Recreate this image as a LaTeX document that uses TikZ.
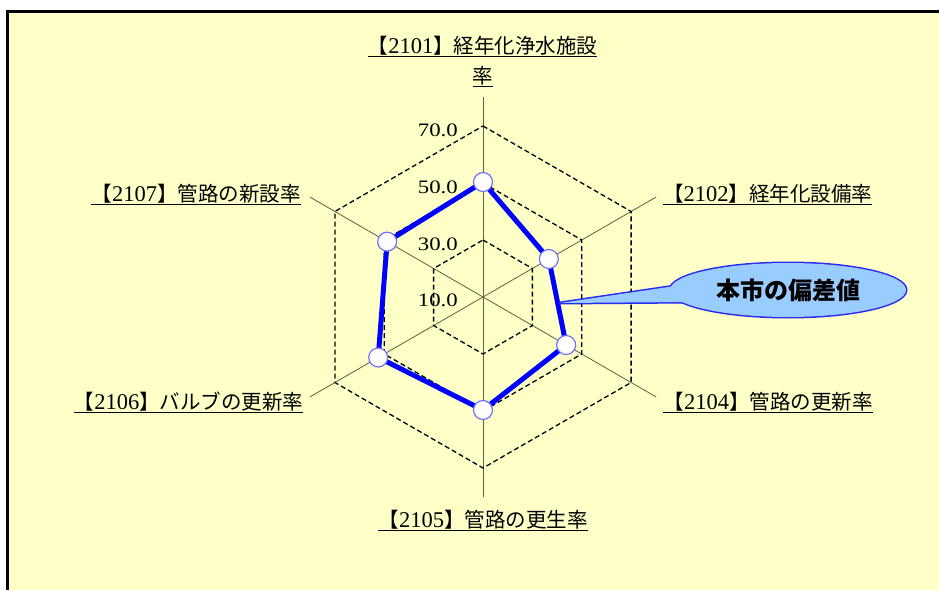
\documentclass[tikz,border=0pt]{standalone}
\usepackage{fontspec}
\setmainfont{Liberation Serif}
\newfontfamily\cjk{Noto Sans CJK JP}
\usetikzlibrary{shapes.geometric,calc}
\definecolor{bgyellow}{HTML}{FFFFC8}
\definecolor{axiscol}{RGB}{95,95,65}
\definecolor{serblue}{HTML}{0000FF}
\definecolor{mkborder}{HTML}{7070FF}
\definecolor{callfill}{HTML}{99CCFF}
\definecolor{callline}{HTML}{2A2AF0}
\tikzset{
  axislbl/.style={inner sep=0pt, anchor=south, font=\fontsize{20.5}{24}\selectfont},
  ticklbl/.style={inner sep=0pt, anchor=east, xscale=1.2, font=\fontsize{19}{21}\selectfont},
  axisline/.style={draw=axiscol, line width=0.8pt},
  gridhex/.style={draw=black, line width=1.3pt, dash pattern=on 5pt off 3pt},
  series/.style={draw=serblue, line width=5pt, line join=round},
  marker/.style={circle, fill=white, draw=mkborder, line width=1.2pt, minimum size=19pt, inner sep=0pt},
  uline/.style={draw=black, line width=0.8pt}
}
\newcommand{\ulbl}[1]{\draw[uline] ([yshift=-1pt]#1.south west) -- ([yshift=-1pt]#1.south east);}
\newcommand{\dg}[1]{{\fontsize{22.5}{24}\selectfont #1}}
\begin{document}
\begin{tikzpicture}[x=1pt,y=1pt]
\useasboundingbox (0,0) rectangle (939,590);
\fill[white] (0,0) rectangle (939,590);
\fill[bgyellow] (7,0) rectangle (939,579);
\draw[line width=3pt] (7.5,0) -- (7.5,578.7) -- (939,578.7);

\coordinate (c) at (483,293);
% axes
\foreach \i/\a in {1/90,2/30,3/-30,4/-90,5/210,6/150}{
  \coordinate (a\i) at ($(c)+(\a:200)$);
  \draw[axisline] (c) -- (a\i);
}
% grid hexagons
\foreach \r in {57,114,171}{
  \draw[gridhex] ($(c)+(90:\r)$) -- ($(c)+(30:\r)$) -- ($(c)+(-30:\r)$) -- ($(c)+(-90:\r)$) -- ($(c)+(210:\r)$) -- ($(c)+(150:\r)$) -- cycle;
}
% tick labels
\node[ticklbl] (t70) at (458,460) {70.0};
\node[ticklbl] (t50) at (458,403) {50.0};
\node[ticklbl] (t30) at (458,346) {30.0};
\node[ticklbl] (t10) at (458,290) {10.0};

% data
\coordinate (d1) at ($(c)+(90:115)$);
\coordinate (d2) at ($(c)+(30:76)$);
\coordinate (d3) at ($(c)+(-30:96)$);
\coordinate (d4) at ($(c)+(-90:113)$);
\coordinate (d5) at ($(c)+(210:121)$);
\coordinate (d6) at ($(c)+(150:110.7)$);
\draw[series] (d1) -- (d2) -- (d3) -- (d4) -- (d5) -- (d6) -- cycle;
\foreach \i in {1,...,6}{ \node[marker] (m\i) at (d\i) {}; }

% axis labels
\node[axislbl] (l1a) at (482.5,535) {{\cjk 【}\dg{2101}{\cjk 】経年化浄水施設}};
\ulbl{l1a}
\node[axislbl] (l1b) at (483,505) {{\cjk 率}};
\ulbl{l1b}
\node[axislbl] (l2) at (767.5,387) {{\cjk 【}\dg{2102}{\cjk 】経年化設備率}};
\ulbl{l2}
\node[axislbl] (l4) at (768,179) {{\cjk 【}\dg{2104}{\cjk 】管路の更新率}};
\ulbl{l4}
\node[axislbl] (l5) at (483,61) {{\cjk 【}\dg{2105}{\cjk 】管路の更生率}};
\ulbl{l5}
\node[axislbl] (l6) at (188.5,179) {{\cjk 【}\dg{2106}{\cjk 】バルブの更新率}};
\ulbl{l6}
\node[axislbl] (l7) at (196,387) {{\cjk 【}\dg{2107}{\cjk 】管路の新設率}};
\ulbl{l7}

% callout
\coordinate (tip) at (560,287);
\coordinate (b1) at (675,304);
\coordinate (b2) at (690,288);
\node[ellipse, draw=callline, line width=3pt, fill=callfill, minimum width=236pt, minimum height=54pt, inner sep=0pt] (callbg) at (788,300) {};
\draw[draw=callline, line width=3pt, line join=round, fill=callfill] (tip) -- (b1) -- (b2) -- cycle;
\fill[callfill] (tip) -- (b1) -- (b2) -- cycle;
\node[ellipse, fill=callfill, minimum width=236pt, minimum height=54pt, inner sep=0pt, font=\cjk\bfseries\fontsize{24}{28}\selectfont] (callout) at (788,300) {本市の偏差値};
\end{tikzpicture}
\end{document}
